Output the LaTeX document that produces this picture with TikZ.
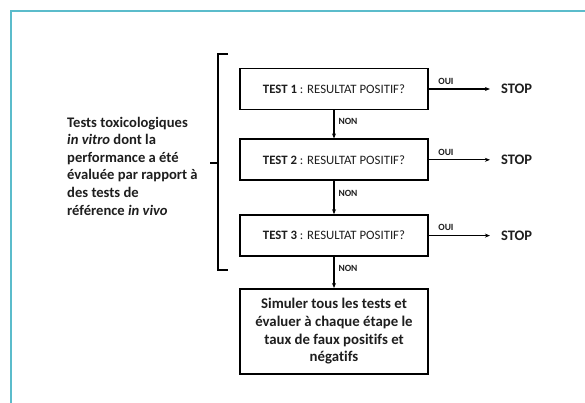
\documentclass[tikz,border=0pt]{standalone}
\usepackage{fontspec}
\setmainfont[Ligatures=NoCommon]{Carlito}
\usetikzlibrary{arrows.meta, positioning}
\definecolor{cframe}{HTML}{5BBCCB}
\definecolor{ctext}{HTML}{1E1E1E}
\tikzset{
  every picture/.style={font=\rmfamily, text=ctext},
  testbox/.style={draw=black, line width=1.8pt, minimum width=188pt, minimum height=41pt, inner sep=2pt, font=\fontsize{12.8}{15}\selectfont},
  arrow/.style={-{Stealth[length=5pt, width=4pt]}, draw=black, line width=1.1pt},
  small/.style={font=\fontsize{9.5}{11}\selectfont\bfseries, inner sep=1pt},
  stop/.style={font=\fontsize{14.5}{16}\selectfont\bfseries, inner sep=1pt},
}

\begin{document}
\begin{tikzpicture}[x=1pt, y=-1pt, node distance=28pt]
  \useasboundingbox (0,0) rectangle (585,403);
  \fill[white] (0,0) rectangle (585,403);
  \draw[cframe, line width=1.5pt] (595,11) -- (11,11) -- (11,415);
  % the four boxes
  \node[testbox] (t1) at (334,89) {\textbf{TEST 1} : RESULTAT POSITIF?};
  \node[testbox, below=28pt of t1] (t2) {\textbf{TEST 2} : RESULTAT POSITIF?};
  \node[testbox, below=33pt of t2] (t3) {\textbf{TEST 3} : RESULTAT POSITIF?};
  \node[testbox, below=31pt of t3, minimum height=85pt, align=center,
        font=\fontsize{14.8}{17.6}\selectfont\bfseries] (sim)
    {Simuler tous les tests et\\ évaluer à chaque étape le\\ taux de faux positifs et\\ négatifs};
  % NON arrows
  \foreach \a/\b in {t1/t2, t2/t3, t3/sim} {
    \draw[arrow] (\a) -- node[small, right=3pt, pos=0.38] {NON} (\b);
  }
  % OUI arrows to STOP
  \foreach \a in {t1, t2, t3} {
    \node[stop, right=71pt of \a] (stop-\a) {STOP};
    \draw[arrow, shorten >=10pt] (\a) -- node[small, above=3pt, pos=0.24] {OUI} (stop-\a);
  }
  % bracket and the text on its left
  \coordinate (brtop) at (228,54);
  \coordinate (brbot) at (228,270);
  \draw[line width=1.1pt] (brtop) -- ++(-10,0) |- (brbot);
  \draw[line width=1.1pt] (218,163) -- (210,163);
  \node[anchor=west, align=left, inner sep=0pt,
        font=\fontsize{14.6}{17.6}\selectfont\bfseries] (intro) at (67,166)
    {Tests toxicologiques\\ \textit{in vitro} dont la\\ performance a été\\ évaluée par rapport à\\ des tests de\\ référence \textit{in vivo}};
\end{tikzpicture}
\end{document}
